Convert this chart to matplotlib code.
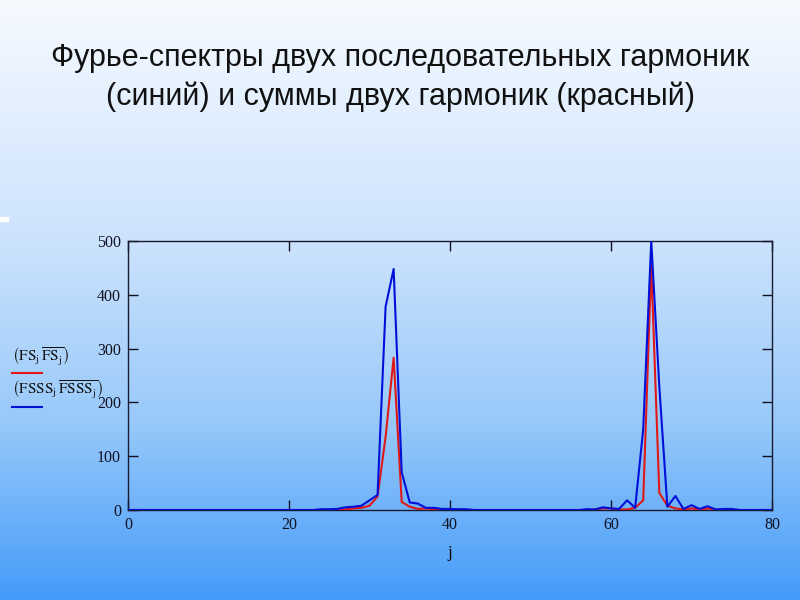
import numpy as np
import matplotlib
matplotlib.use("Agg")
import matplotlib.pyplot as plt
from matplotlib.colors import LinearSegmentedColormap
from matplotlib.patches import Rectangle
from matplotlib.lines import Line2D

# ---- data ----
j = list(range(81))

fsss = ([0] * 24 +
        [1.5, 1.5, 2, 5, 6, 8, 18, 28, 378, 448, 70, 14, 12, 4, 4, 2, 2, 1.5, 1.5] +   # j=24..42
        [0] * 14 +                                                                     # j=43..56
        [1.5, 1, 5, 3, 2, 18, 4, 150, 500, 230, 6, 26, 2, 9, 2, 7, 1, 2, 2] +         # j=57..75
        [0] * 5)                                                                       # j=76..80

fs = ([0] * 27 +
      [1, 3, 4, 8, 25, 136, 283, 15, 6, 2, 3, 1, 1, 0.5, 0.5] +                        # j=27..41
      [0] * 16 +                                                                       # j=42..57
      [1, 3, 3, 1, 1, 4, 18, 455, 32, 8, 3, 1, 3, 1, 3, 1] +                          # j=58..73
      [0] * 7)                                                                         # j=74..80

x_ticks = [0, 20, 40, 60, 80]
y_ticks = [0, 100, 200, 300, 400, 500]

title_lines = ["Фурье-спектры двух последовательных гармоник",
               "(синий) и суммы двух гармоник (красный)"]

plt.rcParams['mathtext.fontset'] = 'stix'

fig = plt.figure(figsize=(8, 6), dpi=100)

# background gradient
bg = fig.add_axes([0, 0, 1, 1], zorder=-10)
cmap = LinearSegmentedColormap.from_list(
    "bg", [(0.0, (0.965, 0.98, 1.0)),
           (0.4, (0.80, 0.89, 0.99)),
           (0.7, (0.60, 0.79, 0.98)),
           (1.0, (0.27, 0.61, 0.98))])
grad = np.linspace(0, 1, 256).reshape(-1, 1)
bg.imshow(grad, aspect='auto', cmap=cmap, extent=[0, 1, 1, 0])
bg.set_xlim(0, 1)
bg.set_ylim(1, 0)
bg.axis('off')
bg.add_patch(Rectangle((0, 217 / 600), 8 / 800, 4 / 600, color='white'))

# title
fig.text(0.5, 1 - 58 / 600, title_lines[0], ha='center', va='center',
         fontsize=22, family='Liberation Sans', color='#111111')
fig.text(0.5, 1 - 97 / 600, title_lines[1], ha='center', va='center',
         fontsize=22, family='Liberation Sans', color='#111111')

ax = fig.add_axes([128 / 800, 1 - 510 / 600, (772 - 128) / 800, (510 - 241) / 600])
ax.patch.set_alpha(0)
ax.plot(j, fs, color='#e01818', lw=1.5, zorder=3)
ax.plot(j, fsss, color='#0010d8', lw=1.5, zorder=4)
ax.set_xlim(0, 80)
ax.set_ylim(0, 500)
ax.set_xticks(x_ticks)
ax.set_yticks(y_ticks)
ax.tick_params(direction='in', length=7, width=1, top=True, right=True,
               labelsize=11.5, colors='#111122', pad=5)
for lab in ax.get_xticklabels() + ax.get_yticklabels():
    lab.set_family('Liberation Serif')
for s in ax.spines.values():
    s.set_color('#1a1a30')
    s.set_linewidth(1)
ax.set_xlabel('j', family='Liberation Serif', fontsize=12, labelpad=9)

# left-side legend
fig.text(12 / 800, 1 - 357 / 600,
         r'$\left(\mathrm{FS}_{\mathrm{j}}\,\overline{\mathrm{FS}_{\mathrm{j}}}\right)$',
         fontsize=11, ha='left', va='center', color='#111111')
fig.add_artist(Line2D([12 / 800, 42 / 800], [1 - 373 / 600, 1 - 373 / 600],
                      color='#e01818', lw=1.5))
fig.text(12 / 800, 1 - 390 / 600,
         r'$\left(\mathrm{FSSS}_{\mathrm{j}}\,\overline{\mathrm{FSSS}_{\mathrm{j}}}\right)$',
         fontsize=11, ha='left', va='center', color='#111111')
fig.add_artist(Line2D([12 / 800, 42 / 800], [1 - 407 / 600, 1 - 407 / 600],
                      color='#0010d8', lw=1.5))

fig.savefig('out.png', dpi=100)
